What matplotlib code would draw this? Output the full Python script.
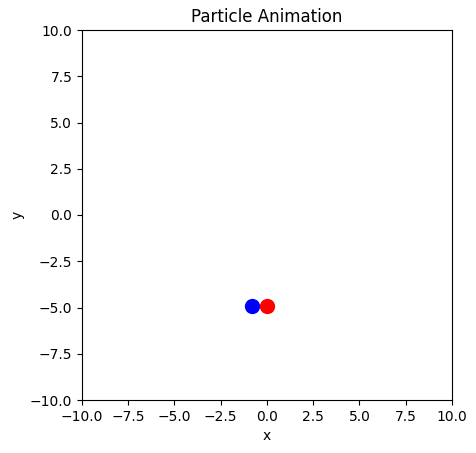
import matplotlib
matplotlib.use('Agg')
import matplotlib.pyplot as plt

blue_x = [-0.8]
blue_y = [-4.9]
red_x = [0.0]
red_y = [-4.9]

fig, ax = plt.subplots(figsize=(4.77, 4.53), dpi=100)
ax.plot(blue_x, blue_y, 'bo', markersize=10)
ax.plot(red_x, red_y, 'ro', markersize=10)
ax.set_xlim(-10, 10)
ax.set_ylim(-10, 10)
ax.set_aspect('equal')
ax.set_xlabel('x')
ax.set_ylabel('y')
ax.set_title('Particle Animation')
fig.subplots_adjust(left=82/477, right=452/477, top=1-30/453, bottom=1-400/453)
fig.savefig('out.png')
